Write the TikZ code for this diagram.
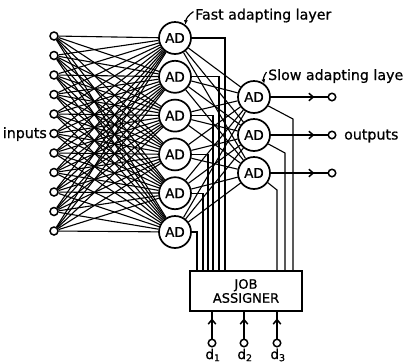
\documentclass[tikz,border=0pt]{standalone}
\usepackage{fontspec}
\setmainfont{DejaVu Sans}
\newfontfamily\lettering[FakeBold=0.8]{DejaVu Sans}
\usetikzlibrary{arrows.meta,decorations.markings}
\begin{document}
\begin{tikzpicture}[x=1bp,y=-1bp,
  wire/.style={line width=1.1bp},
  ad/.style={circle, draw, line width=1.7bp, minimum size=32bp, inner sep=0pt,
    font=\fontsize{13.5bp}{16bp}\lettering},
  term/.style={circle, draw, line width=1.5bp, minimum size=8bp, inner sep=0pt},
  lbl/.style={inner sep=0pt, font=\fontsize{14.2bp}{17bp}\lettering},
  sublbl/.style={inner sep=0pt, font=\fontsize{13.5bp}{16bp}\lettering},
  pointer/.style={line width=1.2bp, -{Latex[length=4.5bp,width=4bp]}},
  midarrow/.style={postaction={decorate}, decoration={markings,
    mark=at position #1 with {\arrow{Straight Barb[length=4.5bp,width=7.5bp,line width=1.5bp]}}}},
]
\useasboundingbox (0,0) rectangle (404,364);

% input terminals
\foreach \i in {0,...,10}
  \node[term] (in\i) at (54,{36+19.5*\i}) {};
\node[lbl, anchor=base east] (inlbl) at (47,138) {inputs};

% fast adapting layer
\foreach \k in {1,...,6}
  \node[ad] (f\k) at (175,{38+38.8*(\k-1)}) {AD};
\node[lbl, anchor=base west] (fastlbl) at (195,19.5) {Fast adapting layer};

% slow adapting layer
\node[ad] (s1) at (254,97) {AD};
\node[ad] (s2) at (254,135) {AD};
\node[ad] (s3) at (254,173) {AD};
\node[lbl, anchor=base west] (slowlbl) at (268,80) {Slow adapting laye};

% output terminals
\node[term, minimum size=7.5bp] (o1) at (332,97) {};
\node[term, minimum size=7.5bp] (o2) at (332,135) {};
\node[term, minimum size=7.5bp] (o3) at (332,173) {};
\node[lbl, anchor=base west] (outlbl) at (344,139.5) {outputs};

% job assigner
\node[draw, line width=1.5bp, minimum width=112bp, minimum height=40bp, inner sep=0pt,
  align=center, font=\fontsize{13bp}{14bp}\lettering] (job) at (246,291) {JOB\\ASSIGNER};

% desired-signal terminals
\node[term, minimum size=7.5bp] (d1) at (212,343) {};
\node[term, minimum size=7.5bp] (d2) at (244,343) {};
\node[term, minimum size=7.5bp] (d3) at (277,343) {};
\node[sublbl] (dl1) at (213,355) {d\textsubscript{1}};
\node[sublbl] (dl2) at (245,355) {d\textsubscript{2}};
\node[sublbl] (dl3) at (278,355) {d\textsubscript{3}};

% inputs to fast layer, fully connected
\foreach \i in {0,...,10}
  \foreach \k in {1,...,6}
    \draw[wire] (in\i) -- (f\k);

% fast layer to slow layer, fully connected
\foreach \k in {1,...,6}
  \foreach \j in {1,2,3}
    \draw[wire] (f\k) -- (s\j);

% fast layer taps into the job assigner
\foreach \k/\xx in {1/225,2/219,3/213,4/208,5/203,6/197} {
  \coordinate (jf\k) at (\xx,271);
  \draw[wire] (f\k.east) -| (jf\k);
}

% slow layer taps into the job assigner
\coordinate (b1) at (293,119);
\coordinate (b2) at (285,153);
\coordinate (b3) at (277,190);
\draw[wire] (s1.-32) -- (b1) -- (b1 |- job.north);
\draw[wire] (s2.-32) -- (b2) -- (b2 |- job.north);
\draw[wire] (s3.-35) -- (b3) -- (b3 |- job.north);

% outputs
\foreach \j in {1,2,3}
  \draw[wire, midarrow=0.77] (s\j) -- (o\j);

% desired signals into the job assigner
\foreach \j in {1,2,3}
  \draw[wire, midarrow=0.75] (d\j) -- (d\j |- job.south);

% layer label pointers
\draw[pointer] ([shift={(-1.5,-4)}]fastlbl.west) to[bend right=25] (f1.52);
\draw[pointer] ([shift={(-1.5,-4)}]slowlbl.west) to[bend right=25] (s1.52);
\end{tikzpicture}
\end{document}
